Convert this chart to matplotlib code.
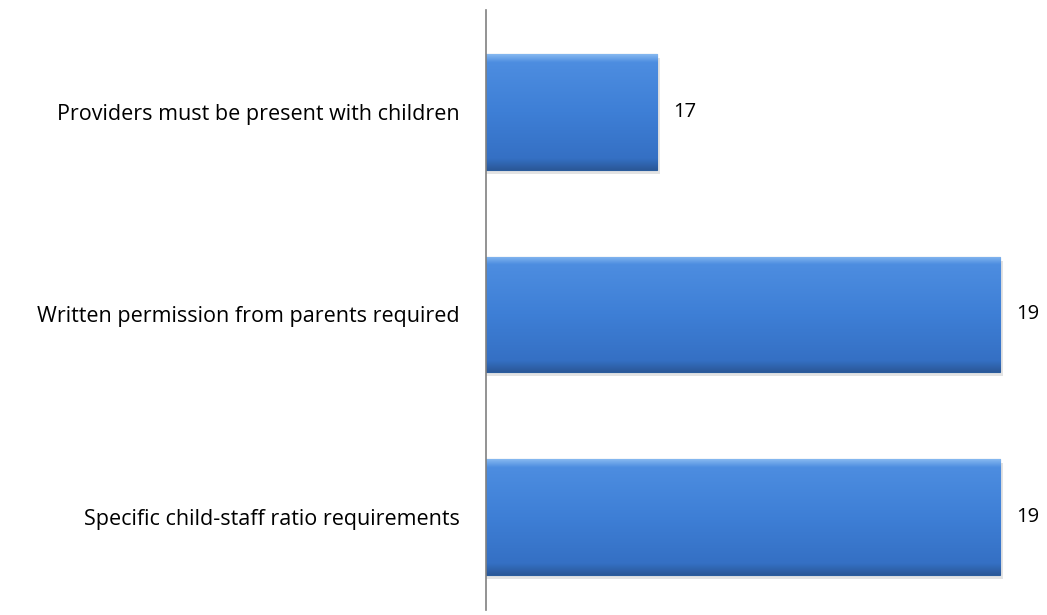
import matplotlib.pyplot as plt
import numpy as np
from matplotlib.colors import LinearSegmentedColormap

categories = ["Providers must be present with children",
              "Written permission from parents required",
              "Specific child-staff ratio requirements"]
values = [17, 19, 19]

FONT = "Open Sans"

fig = plt.figure(figsize=(10.47, 6.15), dpi=100)
ax = fig.add_axes([486 / 1047, 5 / 615, 557 / 1047, 600 / 615])

y = np.arange(len(categories))
bars = ax.barh(y, values, height=0.57, left=0, color="#3a78cc",
               edgecolor="#2a5c9c", linewidth=0.8, zorder=2)

ax.set_xlim(16, 19.25)
ax.set_ylim(2.46, -0.504)

# bevel-ish gradient fill for each bar, clipped to the bar rectangle
cmap = LinearSegmentedColormap.from_list(
    "bev", [(0, "#86b8f0"), (0.07, "#4d8de0"), (0.5, "#3e7fd6"),
            (0.9, "#3570c4"), (1, "#2a5898")])
grad = np.linspace(0, 1, 256).reshape(-1, 1)
for b in bars:
    x0, y0 = b.get_x(), b.get_y()
    w, h = b.get_width(), b.get_height()
    # shadow
    ax.add_patch(plt.Rectangle((16, y0 + 0.02), x0 + w - 16 + 0.015, h,
                               color="#c8c8c8", alpha=0.5, zorder=1, lw=0))
    im = ax.imshow(grad, cmap=cmap, aspect="auto", zorder=3,
                   extent=(16, x0 + w, y0 + h, y0))
    im.set_clip_path(b)

for b, v in zip(bars, values):
    ax.annotate(str(v), (b.get_width(), b.get_y() + b.get_height() / 2),
                xytext=(11.5, 0), textcoords="offset points", va="center",
                ha="left", fontsize=14.5, family=FONT, color="black")

ax.set_yticks(y)
ax.set_yticklabels(categories, fontsize=15.5, family=FONT)
ax.tick_params(axis="y", length=0, pad=19)
ax.set_xticks([])
for s in ["top", "right", "bottom"]:
    ax.spines[s].set_visible(False)
ax.spines["left"].set_color("#808080")
ax.spines["left"].set_linewidth(1.2)
ax.spines["left"].set_zorder(5)

fig.savefig("out.png", dpi=100)
